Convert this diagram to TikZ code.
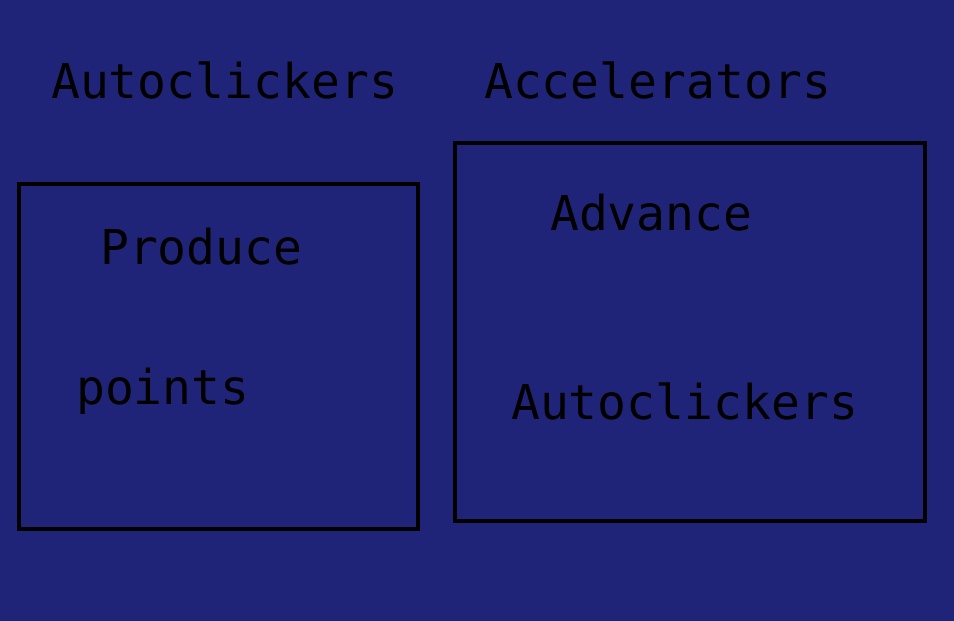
\documentclass[tikz,border=0pt]{standalone}
\usepackage{fontspec}
\setmonofont{DejaVu Sans Mono}
\usetikzlibrary{positioning}
\definecolor{bgblue}{HTML}{202478}

\begin{document}
\begin{tikzpicture}[
    x=1pt, y=-1pt,
    panel/.style={rectangle, draw=black, line width=4.5pt, inner sep=0pt},
    word/.style={anchor=base west, inner sep=0pt, text=black, font=\fontsize{48}{52}\selectfont\ttfamily},
  ]

  % background
  \fill[bgblue] (0,0) rectangle (954,621);
  \useasboundingbox (0,0) rectangle (954,621);

  \node[panel, minimum width=399pt, minimum height=345pt] (clickbox) at (218.5,356.5) {};
  \node[panel, minimum width=470pt, minimum height=378pt] (accelbox) at (690,332) {};

  \node[word] (clicktitle) at (51,98) {Autoclickers};
  \node[word] (acceltitle) at (484,98) {Accelerators};

  \node[word] (produce) at (100,264) {Produce};
  \node[word] (points) at (76,404) {points};

  \node[word] (advance) at (550,230) {Advance};
  \node[word] (autoclick) at (511,419) {Autoclickers};

\end{tikzpicture}
\end{document}
